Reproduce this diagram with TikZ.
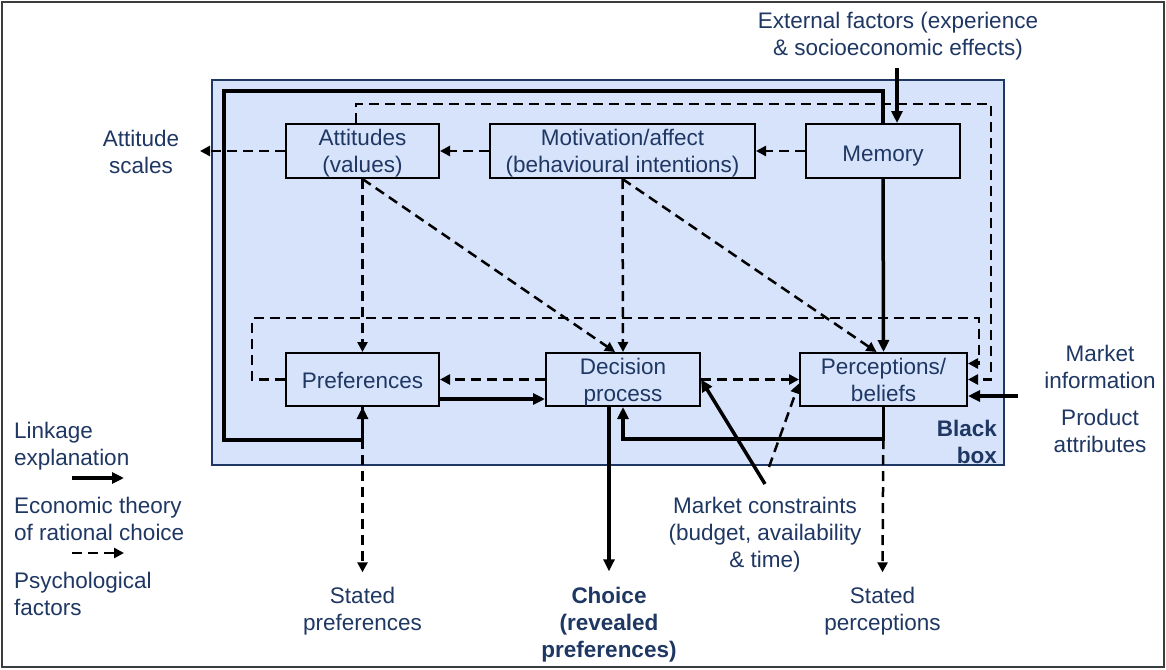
\documentclass[tikz,border=0pt]{standalone}
\usepackage{fontspec}
\setmainfont{Liberation Sans}
\usetikzlibrary{arrows.meta}
\definecolor{ink}{RGB}{31,55,99}
\definecolor{boxfill}{RGB}{214,227,251}
\definecolor{framegray}{RGB}{60,60,60}
\newcommand{\bodyfont}{\fontsize{22.5}{27}\selectfont}
\begin{document}
\begin{tikzpicture}[x=1pt,y=-1pt,
  every node/.style={font=\bodyfont, text=ink},
  stage/.style={draw=black, line width=2pt, fill=boxfill, minimum height=54pt, inner sep=0pt, align=center,
                text height=43pt, text depth=0pt},
  txt/.style={align=center, inner sep=0pt},
  boldtxt/.style={txt, font=\bodyfont\bfseries},
  econ/.style={line width=3.5pt, -{Triangle[length=12pt,width=11pt]}},
  psych/.style={line width=2.5pt, dash pattern=on 10pt off 6pt, -{Triangle[length=10pt,width=10pt]}},
]
% canvas and frame
\useasboundingbox (0,0) rectangle (1166,669);
\fill[white] (0,0) rectangle (1166,669);
\draw[framegray, line width=2pt] (2,2) rectangle (1164,667);

% the black box
\draw[draw=ink, fill=boxfill, line width=1.5pt] (212,80) rectangle (1004,465);

% stages
\node[stage, minimum width=153pt] (att) at (362.5,151) {Attitudes\\(values)};
\node[stage, minimum width=265pt] (mot) at (622.5,151) {Motivation/affect\\(behavioural intentions)};
\node[stage, minimum width=154pt, text height=21pt] (mem) at (883,151) {Memory};
\node[stage, minimum width=153pt, minimum height=53pt, text height=17.6pt] (pref) at (362.5,379.5) {Preferences};
\node[stage, minimum width=154pt, minimum height=53pt] (dec) at (623,379.5) {Decision\\process};
\node[stage, minimum width=167pt, minimum height=53pt] (perc) at (883.5,379.5) {Perceptions/\\beliefs};

% labels
\node[txt] (ext) at (898,36.5) {External factors (experience\\\& socioeconomic effects)};
\node[txt] (scales) at (141,151.5) {Attitude\\scales};
\node[txt] (minfo) at (1100,366.5) {Market\\information};
\node[txt] (prod) at (1100,430.5) {Product\\attributes};
\node[boldtxt, align=right, anchor=east] (bbl) at (997,442) {Black\\box};
\node[txt] (mc) at (765,535) {Market constraints\\(budget, availability\\\& time)};
\node[txt] (sp) at (362.5,611.5) {Stated\\preferences};
\node[boldtxt] (choice) at (609,625) {Choice\\(revealed\\preferences)};
\node[txt] (spc) at (882.5,611.5) {Stated\\perceptions};

% legend
\node[txt, anchor=west, align=left] (lk) at (14,446.5) {Linkage\\explanation};
\node[txt, anchor=west, align=left] (ec) at (14,518.5) {Economic theory\\of rational choice};
\node[txt, anchor=west, align=left] (ps) at (14,593.5) {Psychological\\factors};

% routing points
\coordinate (extx) at (897,68);
\coordinate (tl) at (224,91);
\coordinate (bl) at (224,440);
\coordinate (topr) at (991,104);
\coordinate (lpl) at (252,318);
\coordinate (lpr) at (979,318);
\coordinate (br) at (883,439);
\coordinate (vtx) at (765,484);
\coordinate (vtxd) at (769,467);
\coordinate (miin) at (1018,396);
\coordinate (scaletip) at (200,151);
\coordinate (leg1a) at (72,478);
\coordinate (leg1b) at (124,478);
\coordinate (leg2a) at (72,553);
\coordinate (leg2b) at (124,553);

% psychological links
\draw[psych] (mem.west) -- (mot.east);
\draw[psych] (mot.west) -- (att.east);
\draw[psych] (att.west) -- (scaletip);
\draw[psych] ([xshift=-6.5pt]att.north) |- (topr) |- (perc.east);
\draw[psych] (pref.west) -| (lpl) -- (lpr) |- ([yshift=16pt]perc.east);
\draw[psych] (att.south) -- (pref.north);
\draw[psych] (att.south) -- ([xshift=-8pt]dec.north);
\draw[psych] (mot.south) -- (dec.north);
\draw[psych] (mot.south) -- ([xshift=-7pt]perc.north);
\draw[psych] (dec.west) -- (pref.east);
\draw[psych] (dec.east) -- (perc.west);
\draw[psych] (pref.south) -- ([yshift=15pt]sp.north);
\draw[psych] (perc.south) -- ([yshift=15pt]spc.north);
\draw[psych] (vtxd) -- ([yshift=-4pt]perc.west);

% economic links
\draw[econ] (extx) -- (extx |- mem.north);
\draw[econ] (mem.north) |- (tl) -- (bl) -| (pref.south);
\draw[econ] (mem.south) -- (perc.north);
\draw[econ] ([yshift=-19.5pt]pref.east) -- ([yshift=-19.5pt]dec.west);
\draw[econ] (perc.south) -- (perc.south |- br) -| (dec.south);
\draw[econ] (dec.south -| choice.north) -- ([yshift=16pt]choice.north);
\draw[econ] (vtx) -- (dec.east);
\draw[econ] (miin) -- ([yshift=-16.5pt]perc.east);

% legend arrows
\draw[econ] (leg1a) -- (leg1b);
\draw[psych] (leg2a) -- (leg2b);
\end{tikzpicture}
\end{document}
